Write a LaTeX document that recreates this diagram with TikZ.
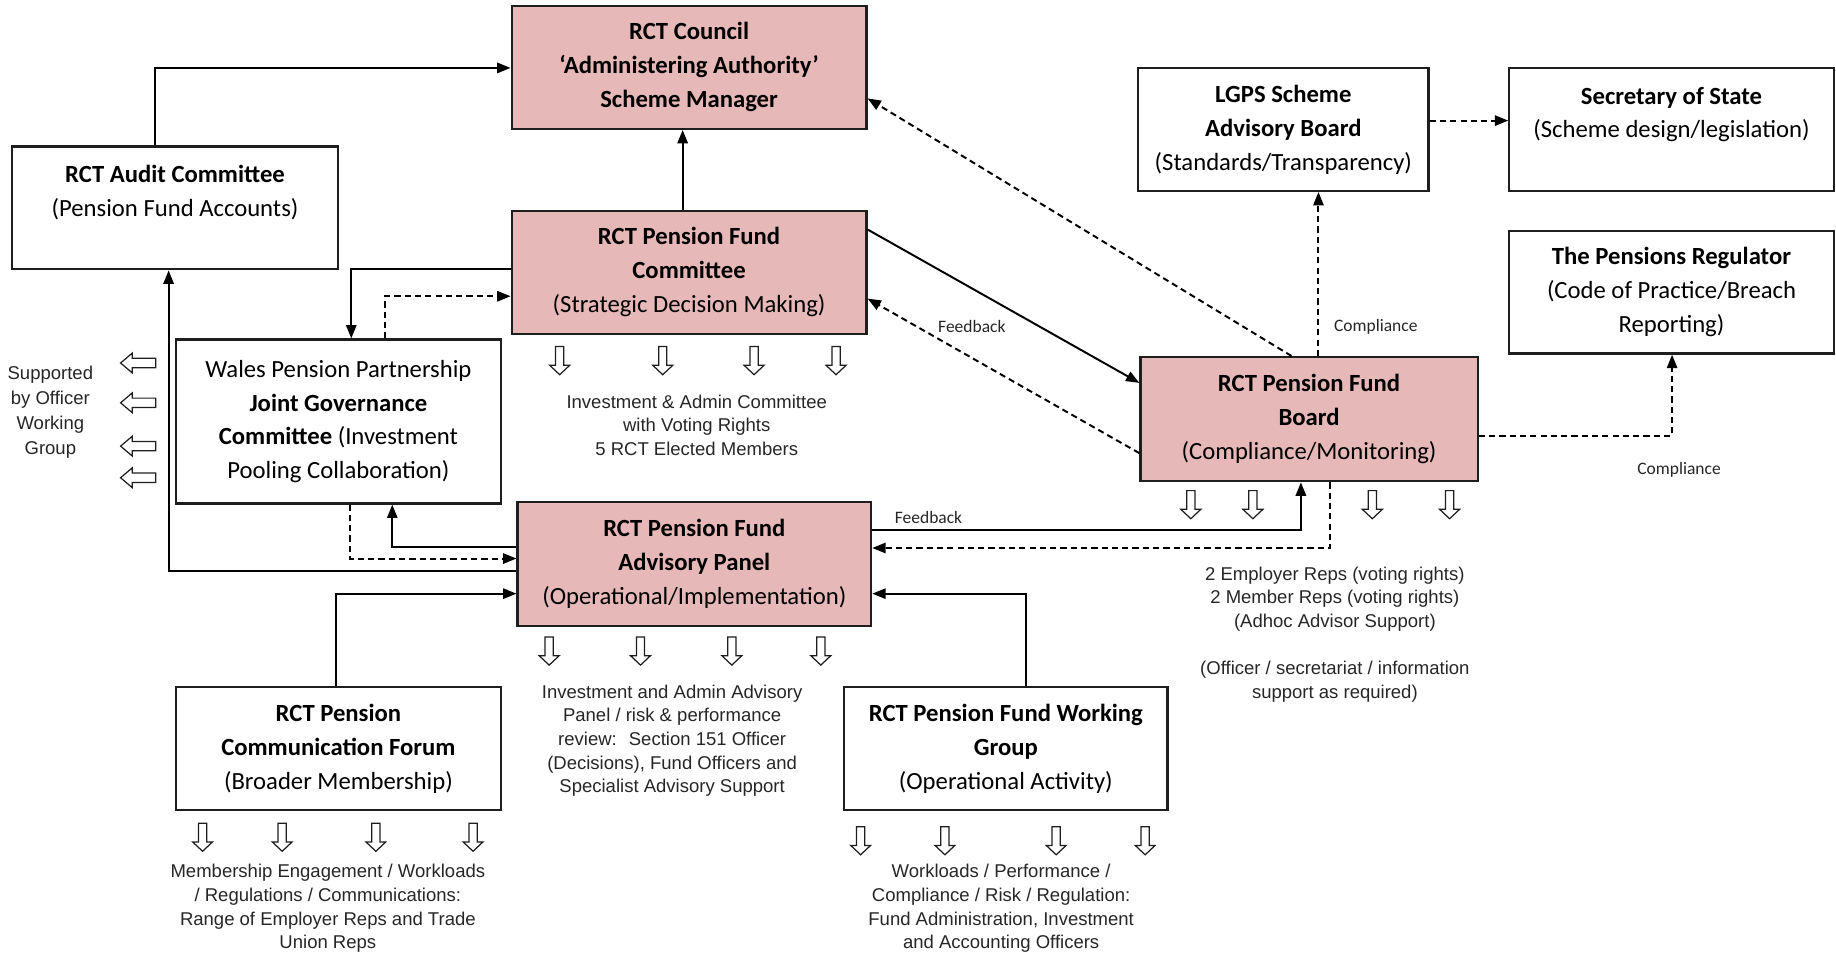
\documentclass[tikz,border=0pt]{standalone}
\usepackage{fontspec}
\setmainfont{Carlito}
\newfontfamily\notefont{Liberation Sans}
\usetikzlibrary{arrows.meta}
\definecolor{panelpink}{RGB}{230,184,183}
\definecolor{edgegray}{RGB}{30,30,30}

\begin{document}
\begin{tikzpicture}[x=0.02cm,y=-0.02cm,
	downhollow/.pic={\draw[edgegray,line width=0.6pt,fill=white] (-3.5,0) -- (3.5,0) -- (3.5,16) -- (8.5,16) -- (0,24) -- (-8.5,16) -- (-3.5,16) -- cycle;},
	lefthollow/.pic={\draw[edgegray,line width=0.6pt,fill=white] (0,-4) -- (-20,-4) -- (-20,-8.5) -- (-30,0) -- (-20,8.5) -- (-20,4) -- (0,4) -- cycle;}]
	\tikzstyle{every node}+=[inner sep=0pt]
	\tikzstyle{body}=[draw=edgegray,line width=1.1pt,align=center,font=\fontsize{12}{16.5}\selectfont]
	\tikzstyle{pinkbody}=[body,fill=panelpink]
	\tikzstyle{link}=[black,line width=0.95pt,-{Triangle[length=6.5pt,width=5pt]}]
	\tikzstyle{dlink}=[link,dash pattern=on 3pt off 2pt]
	\tikzstyle{note}=[align=center,text=black!85,font=\notefont\fontsize{9}{11.5}\selectfont]
	\tikzstyle{tag}=[text=black!85,font=\fontsize{8.5}{10}\selectfont]
	\useasboundingbox (0,0) rectangle (1568,819);
	\node[pinkbody,minimum width=6.06cm,minimum height=2.1cm] (council) at (588.5,57.5) {\textbf{RCT Council}\\\textbf{‘Administering Authority’}\\\textbf{Scheme Manager}};
	\node[body,minimum width=5.58cm,minimum height=2.1cm] (audit) at (149.5,177.5) {\textbf{RCT Audit Committee}\\(Pension Fund Accounts)\\\mbox{}};
	\node[pinkbody,minimum width=6.06cm,minimum height=2.1cm] (committee) at (588.5,232.5) {\textbf{RCT Pension Fund}\\\textbf{Committee}\\(Strategic Decision Making)};
	\node[body,minimum width=5.56cm,minimum height=2.8cm] (wpp) at (289,360) {Wales Pension Partnership\\\textbf{Joint Governance}\\\textbf{Committee} (Investment\\Pooling Collaboration)};
	\node[pinkbody,minimum width=6.04cm,minimum height=2.12cm] (panel) at (593,481.5) {\textbf{RCT Pension Fund}\\\textbf{Advisory Panel}\\(Operational/Implementation)};
	\node[body,minimum width=4.96cm,minimum height=2.1cm] (lgps) at (1096,110.5) {\textbf{LGPS Scheme}\\\textbf{Advisory Board}\\(Standards/Transparency)};
	\node[body,minimum width=5.54cm,minimum height=2.1cm] (sos) at (1427.5,110.5) {\textbf{Secretary of State}\\(Scheme design/legislation)\\\mbox{}};
	\node[body,minimum width=5.54cm,minimum height=2.1cm] (tpr) at (1427.5,249.5) {\textbf{The Pensions Regulator}\\(Code of Practice/Breach\\Reporting)};
	\node[pinkbody,minimum width=5.76cm,minimum height=2.12cm] (board) at (1118,358) {\textbf{RCT Pension Fund}\\\textbf{Board}\\(Compliance/Monitoring)};
	\node[body,minimum width=5.56cm,minimum height=2.1cm] (forum) at (289,639.5) {\textbf{RCT Pension}\\\textbf{Communication Forum}\\(Broader Membership)};
	\node[body,minimum width=5.52cm,minimum height=2.1cm] (wgroup) at (859,639.5) {\textbf{RCT Pension Fund Working}\\\textbf{Group}\\(Operational Activity)};
	\draw[link] (audit.north -| 132,0) |- (council.west |- 0,58);
	\draw[link] (committee.north -| 583,0) -- (council.south -| 583,0);
	\draw[link] (committee.west |- 0,230) -| (wpp.north -| 300,0);
	\draw[dlink] (wpp.north -| 329,0) |- (committee.west |- 0,253);
	\draw[link] (panel.west |- 0,488) -| (audit.south -| 144,0);
	\draw[link] (panel.west |- 0,467) -| (wpp.south -| 335,0);
	\draw[dlink] (wpp.south -| 299,0) |- (panel.west |- 0,477);
	\draw[link] (forum.north -| 287,0) |- (panel.west |- 0,507);
	\draw[link] (wgroup.north -| 876,0) |- (panel.east |- 0,507);
	\draw[link] (committee.east |- 0,196) -- (board.west |- 0,327);
	\draw[dlink] (board.west |- 0,387) -- (committee.east |- 0,255);
	\draw[dlink] (board.north -| 1103,0) -- (council.east |- 0,84);
	\draw[dlink] (board.north -| 1126,0) -- (lgps.south -| 1126,0);
	\draw[dlink] (lgps.east |- 0,103) -- (sos.west |- 0,103);
	\draw[dlink] (board.east |- 0,372) -| (tpr.south -| 1428,0);
	\draw[link] (panel.east |- 0,453) -| (board.south -| 1111,0);
	\draw[dlink] (board.south -| 1136,0) |- (panel.east |- 0,468);
	\node[tag] (fbup) at (830,279) {Feedback};
	\node[tag] (fbdown) at (793,442) {Feedback};
	\node[tag] (cmlgps) at (1175,279) {Compliance};
	\node[tag] (cmtpr) at (1434,401) {Compliance};
	\foreach \x in {478,566,644,714} \pic at (\x,296) {downhollow};
	\foreach \x in {1017,1070,1172,1238} \pic at (\x,419) {downhollow};
	\foreach \x in {469,547,625,701} \pic at (\x,544) {downhollow};
	\foreach \x in {173,241,321,404} \pic at (\x,703) {downhollow};
	\foreach \x in {735,807,902,978} \pic at (\x,706) {downhollow};
	\foreach \y in {310,344,381,408} \pic at (133,\y) {lefthollow};
	\node[note] (cmtnote) at (595,363) {Investment \& Admin Committee\\with Voting Rights\\5 RCT Elected Members};
	\node[note] (boardnote) at (1140,542) {2 Employer Reps (voting rights)\\2 Member Reps (voting rights)\\(Adhoc Advisor Support)\\[11.5pt](Officer / secretariat / information\\support as required)};
	\node[note] (panelnote) at (574,632.5) {Investment and Admin Advisory\\Panel / risk \& performance\\review: \ Section 151 Officer\\(Decisions), Fund Officers and\\Specialist Advisory Support};
	\node[note] (forumnote) at (280,776) {Membership Engagement / Workloads\\/ Regulations / Communications:\\Range of Employer Reps and Trade\\Union Reps};
	\node[note] (groupnote) at (855,776) {Workloads / Performance /\\Compliance / Risk / Regulation:\\Fund Administration, Investment\\and Accounting Officers};
	\node[note,font=\notefont\fontsize{9}{12.2}\selectfont] (supnote) at (43,352) {Supported\\by Officer\\Working\\Group};
\end{tikzpicture}
\end{document}
